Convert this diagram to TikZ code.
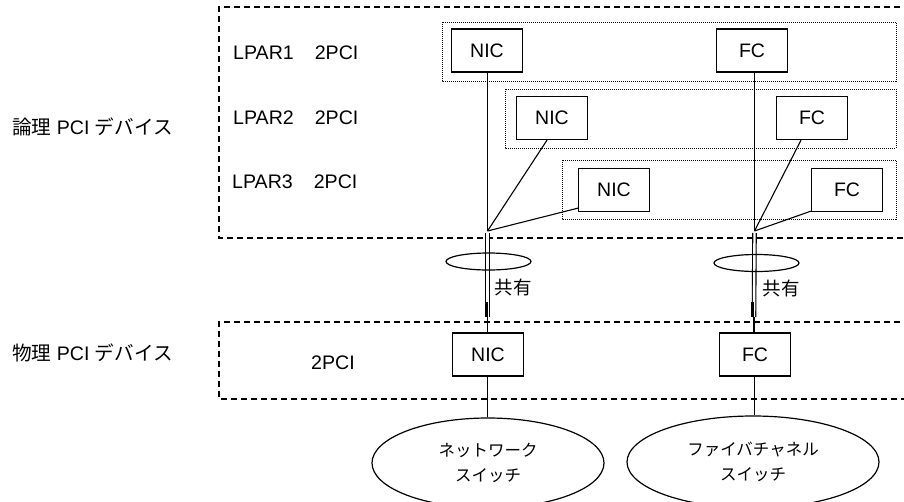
\documentclass[tikz,border=0pt]{standalone}
\usepackage{fontspec}
\setmainfont{Liberation Sans}
\newfontfamily\jp{Noto Sans CJK JP}
\usetikzlibrary{shapes.geometric,calc}
\begin{document}
\begin{tikzpicture}[x=1pt,y=-1pt,
  card/.style={draw,line width=1.3pt,rectangle,minimum width=71pt,minimum height=43pt,inner sep=0pt,font=\fontsize{19.5}{21}\selectfont},
  lbl/.style={inner sep=0pt,font=\fontsize{19.6}{21}\selectfont},
  jlbl/.style={inner sep=0pt,font=\fontsize{18.5}{20}\selectfont\jp},
  area/.style={draw,line width=1.3pt,dash pattern=on 6pt off 4pt},
  lpar/.style={draw,line width=0.9pt,dash pattern=on 1pt off 1pt},
  wire/.style={line width=1.1pt},
  ring/.style={draw,line width=1.2pt,ellipse,minimum width=85pt,minimum height=17pt,inner sep=0pt},
  switch/.style={draw,line width=1.2pt,ellipse,inner sep=0pt,align=center,font=\fontsize{16.5}{25}\selectfont\jp}]
\useasboundingbox (0,0) rectangle (904,501);
\clip (0,0) rectangle (904,501);
% areas
\draw[area] (910,7) -- (219,7) -- (219,238) -- (910,238);
\draw[area] (910,322) -- (219,322) -- (219,399) -- (910,399);
\draw[lpar] (442,22) rectangle (896,81);
\draw[lpar] (505,89) rectangle (896,148);
\draw[lpar] (562,160) rectangle (896,219);
% labels
\node[lbl,anchor=west] (l1) at (233,53) {LPAR1\hspace{21pt}2PCI};
\node[lbl,anchor=west] (l2) at (233,118) {LPAR2\hspace{21pt}2PCI};
\node[lbl,anchor=west] (l3) at (232,182) {LPAR3\hspace{21pt}2PCI};
\node[lbl] (p2) at (333,363) {2PCI};
\node[lbl,anchor=west] (lt) at (12,127) {{\jp 論理} PCI {\jp デバイス}};
\node[lbl,anchor=west] (ph) at (12,353) {{\jp 物理} PCI {\jp デバイス}};
% cards
\node[card] (nic1) at (487,50.5) {NIC};
\node[card] (fc1) at (752,50.5) {FC};
\node[card] (nic2) at (552,118) {NIC};
\node[card] (fc2) at (812,118) {FC};
\node[card] (nic3) at (614,190) {NIC};
\node[card] (fc3) at (847,190) {FC};
\node[card] (pnic) at (488,354.5) {NIC};
\node[card] (pfc) at (755,354.5) {FC};
% junctions
\coordinate (jn) at (487.5,231);
\coordinate (jf) at (754.5,231);
\coordinate (dn) at (487.5,317);
\coordinate (df) at (754,317);
\draw[wire] (nic1.south -| jn) -- (jn);
\draw[wire] ([xshift=-5pt]nic2.south) -- (jn);
\draw[wire] ([yshift=4pt]nic3.south west) -- (jn);
\draw[wire] (fc1.south -| jf) -- (jf);
\draw[wire] ([xshift=-11pt]fc2.south) -- (jf);
\draw[wire] ([yshift=1pt]fc3.south west) -- (jf);
% shared double lines
\draw[line width=1.1pt,double,double distance=2.4pt] ([yshift=-2pt]jn) -- (dn);
\draw[line width=1.1pt,double,double distance=2.4pt] ([yshift=-2pt]jf) -- (df);
\draw[line width=2.8pt] ([xshift=-1.2pt,yshift=15pt]dn) -- ([xshift=-1.2pt]dn);
\draw[line width=2.8pt] ([xshift=-1.2pt,yshift=15pt]df) -- ([xshift=-1.2pt]df);
\draw[wire] (dn) -- (pnic.north -| dn);
\draw[wire] (df) -- (pfc.north -| df);
\node[ring] (r1) at (488.5,261.5) {};
\node[ring] (r2) at (756.5,263) {};
\node[jlbl] (s1) at (513,287) {共有};
\node[jlbl] (s2) at (781,288) {共有};
% switches
\node[switch,minimum width=232pt,minimum height=90pt] (sw1) at (488,463) {ネットワーク\\スイッチ};
\node[switch,minimum width=252pt,minimum height=92pt] (sw2) at (753,462) {ファイバチャネル\\スイッチ};
\draw[wire] (pnic.south -| dn) -- (dn |- sw1.north);
\draw[wire] (pfc.south -| jf) -- (jf |- sw2.north);
\end{tikzpicture}
\end{document}
